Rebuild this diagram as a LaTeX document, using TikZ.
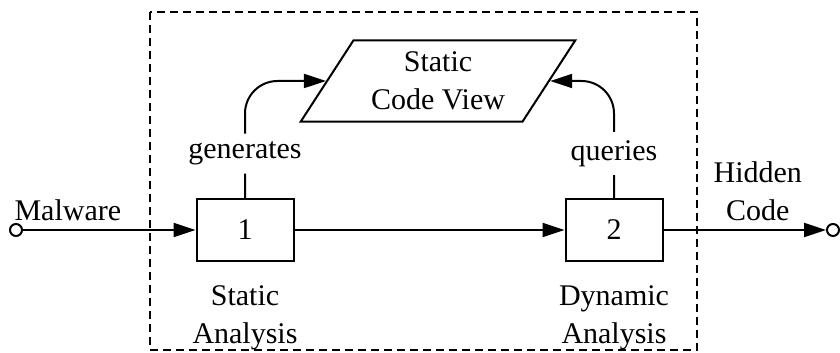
\documentclass[tikz,border=0pt]{standalone}
\usepackage{fontspec}
\setmainfont{Liberation Serif}
\usetikzlibrary{shapes.geometric, arrows.meta, positioning}

\begin{document}
\begin{tikzpicture}[
  x=0.4pt, y=-0.4pt,
  font=\fontsize{12}{15}\selectfont,
  stage/.style={
    rectangle,
    draw,
    line width=0.8pt,
    minimum width=38.8pt,
    minimum height=24.8pt,
    inner sep=0pt
  },
  codeview/.style={
    trapezium,
    trapezium left angle=57,
    trapezium right angle=123,
    draw,
    line width=0.8pt,
    inner xsep=7pt,
    inner ysep=4.7pt,
    align=center
  },
  port/.style={circle, draw, line width=0.8pt, fill=white, minimum size=4.8pt, inner sep=0pt},
  caption/.style={align=center},
  flow/.style={line width=0.8pt, -{Triangle[length=8.8pt, width=5.6pt]}}
]
  \useasboundingbox (0,0) rectangle (840,353);

  % Analysis boundary
  \draw[line width=0.8pt, dash pattern=on 3.2pt off 2pt] (150,12) rectangle (697,350);

  % Stages
  \node[stage] (s1) at (245,230) {1};
  \node[stage] (s2) at (614,230) {2};

  % Shared view
  \node[codeview] (view) at (438,81) {Static\\Code View};

  % Ports
  \node[port] (in) at (16,230) {};
  \node[port] (out) at (833,230) {};

  % Captions
  \node[caption, below=6pt of s1] (s1cap) {Static\\Analysis};
  \node[caption, below=6pt of s2] (s2cap) {Dynamic\\Analysis};

  % Data flow
  \draw[flow] (in) -- node[pos=0.26, above] {Malware} (s1);
  \draw[flow] (s1) -- (s2);
  \draw[flow] (s2) -- node[pos=0.58, above, align=center] {Hidden\\Code} (out);
  \draw[flow, rounded corners=13pt] (s1.north) |- node[pos=0.19, fill=white] {generates} (view.west);
  \draw[flow, rounded corners=13pt] (s2.north) |- node[pos=0.19, fill=white] {queries} (view.east);
\end{tikzpicture}
\end{document}
